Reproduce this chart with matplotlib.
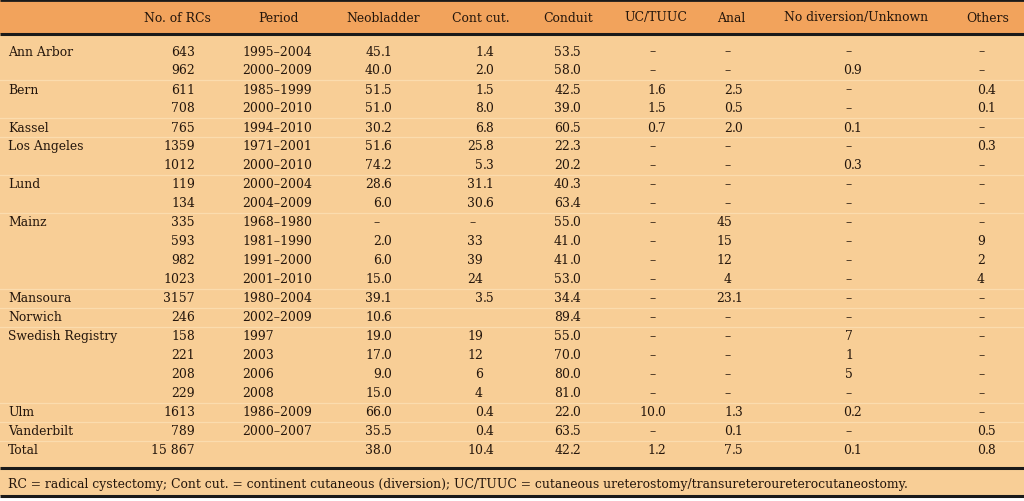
import matplotlib
matplotlib.use("Agg")
import matplotlib.pyplot as plt

# ---------------- data ----------------
headers = ["No. of RCs", "Period", "Neobladder", "Cont cut.", "Conduit", "UC/TUUC",
           "Anal", "No diversion/Unknown", "Others"]
centers = ["Ann Arbor", "", "Bern", "", "Kassel", "Los Angeles", "", "Lund", "", "Mainz", "", "", "",
           "Mansoura", "Norwich", "Swedish Registry", "", "", "", "Ulm", "Vanderbilt", "Total"]
n_rcs = ["643", "962", "611", "708", "765", "1359", "1012", "119", "134", "335", "593", "982", "1023",
         "3157", "246", "158", "221", "208", "229", "1613", "789", "15 867"]
period = ["1995–2004", "2000–2009", "1985–1999", "2000–2010", "1994–2010", "1971–2001", "2000–2010",
          "2000–2004", "2004–2009", "1968–1980", "1981–1990", "1991–2000", "2001–2010", "1980–2004",
          "2002–2009", "1997", "2003", "2006", "2008", "1986–2009", "2000–2007", ""]
neobladder = ["45.1", "40.0", "51.5", "51.0", "30.2", "51.6", "74.2", "28.6", "6.0", "–", "2.0", "6.0",
              "15.0", "39.1", "10.6", "19.0", "17.0", "9.0", "15.0", "66.0", "35.5", "38.0"]
cont_cut = ["1.4", "2.0", "1.5", "8.0", "6.8", "25.8", "5.3", "31.1", "30.6", "–", "33", "39", "24",
            "3.5", "", "19", "12", "6", "4", "0.4", "0.4", "10.4"]
conduit = ["53.5", "58.0", "42.5", "39.0", "60.5", "22.3", "20.2", "40.3", "63.4", "55.0", "41.0", "41.0",
           "53.0", "34.4", "89.4", "55.0", "70.0", "80.0", "81.0", "22.0", "63.5", "42.2"]
uc_tuuc = ["–", "–", "1.6", "1.5", "0.7", "–", "–", "–", "–", "–", "–", "–", "–", "–", "–", "–", "–",
           "–", "–", "10.0", "–", "1.2"]
anal = ["–", "–", "2.5", "0.5", "2.0", "–", "–", "–", "–", "45", "15", "12", "4", "23.1", "–", "–", "–",
        "–", "–", "1.3", "0.1", "7.5"]
no_div = ["–", "0.9", "–", "–", "0.1", "–", "0.3", "–", "–", "–", "–", "–", "–", "–", "–", "7", "1", "5",
          "–", "0.2", "–", "0.1"]
others = ["–", "–", "0.4", "0.1", "–", "0.3", "–", "–", "–", "–", "9", "2", "4", "–", "–", "–", "–", "–",
          "–", "–", "0.5", "0.8"]
footnote = ("RC = radical cystectomy; Cont cut. = continent cutaneous (diversion); "
            "UC/TUUC = cutaneous ureterostomy/transureteroureterocutaneostomy.")

# ---------------- layout ----------------
W, H = 1024, 502
fig = plt.figure(figsize=(W / 100, H / 100), dpi=100)
ax = fig.add_axes([0, 0, 1, 1])
ax.set_xlim(0, W)
ax.set_ylim(H, 0)
ax.axis("off")

HEAD_BG = "#F2A35C"
BODY_BG = "#F8CE96"
SEP = "#FBDCAE"
TXT = "#24160c"
FONT = "DejaVu Serif"
FS = 8.9

ax.add_patch(plt.Rectangle((0, 0), W, 35, color=HEAD_BG, lw=0))
ax.add_patch(plt.Rectangle((0, 35), W, 462, color=BODY_BG, lw=0))
ax.add_patch(plt.Rectangle((0, 497), W, 5, color="white", lw=0))

for y, lw in [(1, 2.0), (35, 2.2), (468.5, 2.2), (497, 2.2)]:
    ax.plot([0, W], [y, y], color="#1a1a1a", lw=lw, solid_capstyle="butt")

head_x = [177, 278, 383, 481, 568, 656, 731, 856, 988]
head_y = 18
for h, x in zip(headers, head_x):
    ax.text(x, head_y, h, ha="center", va="center", fontsize=FS, family=FONT, color=TXT)

row0, dy = 52, 19
rows_y = [row0 + i * dy for i in range(len(centers))]

# group separators
for i, c in enumerate(centers):
    if i > 0 and c:
        yy = rows_y[i] - dy / 2
        ax.plot([0, W], [yy, yy], color=SEP, lw=0.9)

for c, y in zip(centers, rows_y):
    if c:
        ax.text(8, y, c, ha="left", va="center", fontsize=FS, family=FONT, color=TXT)
for v, y in zip(n_rcs, rows_y):
    ax.text(195, y, v, ha="right", va="center", fontsize=FS, family=FONT, color=TXT)
for v, y in zip(period, rows_y):
    ax.text(242, y, v, ha="left", va="center", fontsize=FS, family=FONT, color=TXT)

# (values, decimal x, dash x, integer anchor x, integer alignment)
dec_cols = [(neobladder, 381, 377, 381, "right"), (cont_cut, 483, 473, 483, "right"),
            (conduit, 570, 568, 570, "right"), (uc_tuuc, 655, 653, 655, "right"),
            (anal, 732, 728, 732, "right"), (no_div, 851, 849, 845, "left"),
            (others, 985, 982, 985, "right")]
for col, xd, xdash, xi, hai in dec_cols:
    for v, y in zip(col, rows_y):
        if not v:
            continue
        if v == "–":
            ax.text(xdash, y, v, ha="center", va="center", fontsize=FS, family=FONT, color=TXT)
        elif "." in v:
            a, b = v.split(".")
            ax.text(xd, y, a, ha="right", va="center", fontsize=FS, family=FONT, color=TXT)
            ax.text(xd, y, "." + b, ha="left", va="center", fontsize=FS, family=FONT, color=TXT)
        else:
            ax.text(xi, y, v, ha=hai, va="center", fontsize=FS, family=FONT, color=TXT)

ax.text(8, 485, footnote, ha="left", va="center", fontsize=FS, family=FONT, color=TXT)

fig.savefig("out.png", dpi=100)
